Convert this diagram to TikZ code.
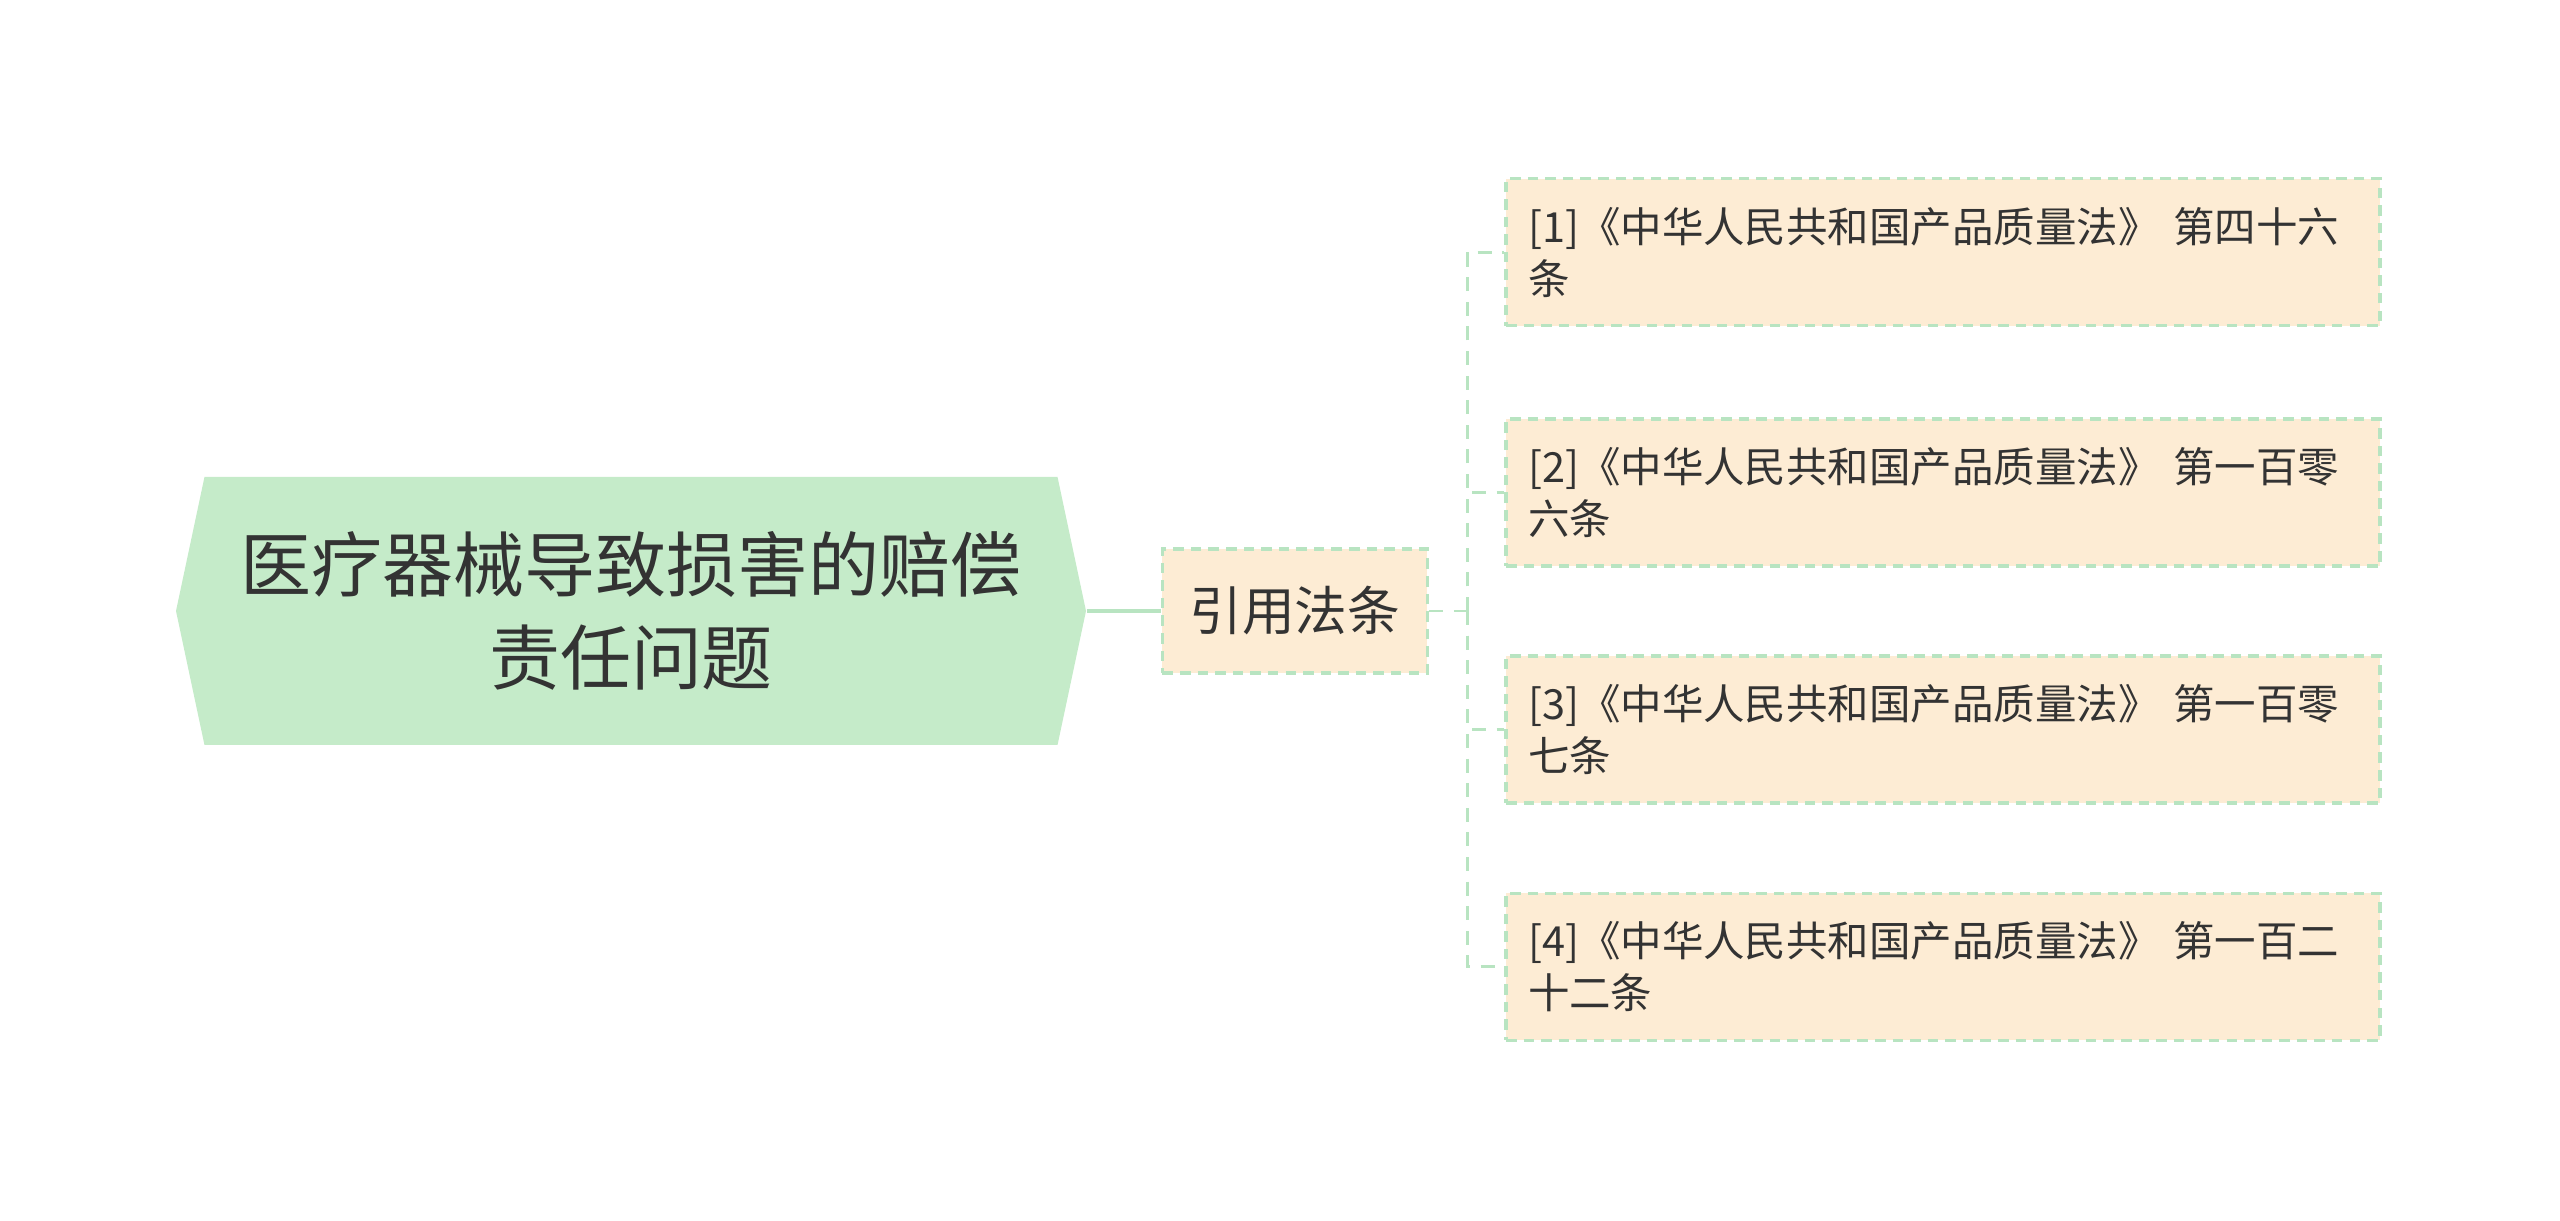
\documentclass[tikz,border=0pt]{standalone}
\usepackage{fontspec}
\setmainfont{Noto Sans CJK SC}
\usetikzlibrary{positioning,shapes.symbols}
\definecolor{rootgreen}{HTML}{C5EBC9}
\definecolor{boxfill}{HTML}{FDECD4}
\definecolor{linegreen}{HTML}{B8E4C1}
\definecolor{txt}{HTML}{333333}
\tikzset{root node/.style={signal,signal to=west and east,signal pointer angle=156,fill=rootgreen,minimum width=9.1cm,minimum height=2.68cm,inner sep=0pt,align=center,text=txt,font=\fontsize{20.2pt}{26.4pt}\selectfont},
law node/.style={fill=boxfill,draw=linegreen,line width=1pt,dash pattern=on 3pt off 2pt,text=txt},
mid node/.style={law node,minimum width=2.65cm,minimum height=1.24cm,inner sep=0pt,font=\fontsize{15pt}{18pt}\selectfont},
leaf node/.style={law node,text width=8.3cm,inner xsep=.22cm,minimum height=1.47cm,align=left,font=\fontsize{11.8pt}{14.8pt}\selectfont},
link/.style={draw=linegreen,line width=.8pt,dash pattern=on 4pt off 3pt},}

\begin{document}
\begin{tikzpicture}
    \useasboundingbox (0,0) rectangle (25.6,12.21);

    \node[root node] (root) at (6.31,6.10) {医疗器械导致损害的赔偿\\责任问题};
    \node[mid node] (c) [right = .74cm of root] {引用法条};
    \coordinate[right = .38cm of c] (j);

    \node[leaf node] (l2) [above right = .43cm and .75cm of c.east] {[2]《中华人民共和国产品质量法》 第一百零\\六条};
    \node[leaf node] (l1) [above = .9cm of l2] {[1]《中华人民共和国产品质量法》 第四十六\\条};
    \node[leaf node] (l3) [below right = .43cm and .75cm of c.east] {[3]《中华人民共和国产品质量法》 第一百零\\七条};
    \node[leaf node] (l4) [below = .87cm of l3] {[4]《中华人民共和国产品质量法》 第一百二\\十二条};

    \draw[draw=linegreen,line width=1.4pt] (root.east) -- (c.west);
    \draw[link] (c.east) -- (j);
    \foreach \i in {1,...,4}
        \draw[link] (j) |- (l\i.west);
\end{tikzpicture}
\end{document}
